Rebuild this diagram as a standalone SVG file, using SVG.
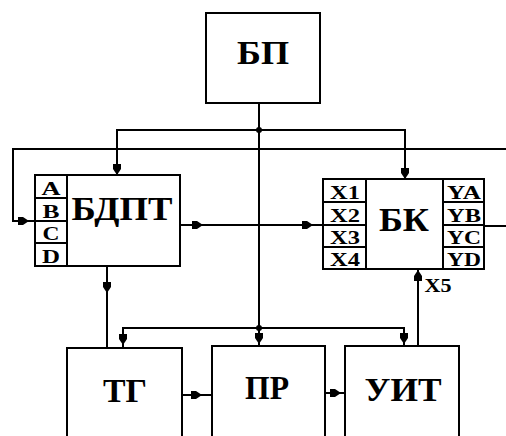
<svg xmlns="http://www.w3.org/2000/svg" xmlns:xlink="http://www.w3.org/1999/xlink" width="506" height="436" viewBox="0 0 506 436">
<style>
.box{fill:#fff;stroke:#000;stroke-width:2}
.ln{fill:none;stroke:#000;stroke-width:2}
.big{font-family:'Liberation Serif','DejaVu Serif',serif;font-weight:bold;font-size:34px;text-anchor:middle;fill:#000}
.sm{font-family:'Liberation Serif','DejaVu Serif',serif;font-weight:bold;font-size:19px;text-anchor:middle;fill:#000}
</style>
<defs>
<path id="ah" d="M-11,-4 L-6,-4 L0,0 L-6,4 L-11,4 z" fill="#000"/>
</defs>
<rect width="506" height="436" fill="#fff"/>
<g id="connectors">
<path class="ln" d="M259,103 V346"/>
<path class="ln" d="M117,175 V130 H405 V179"/>
<path class="ln" d="M506,149 H13 V221 H35"/>
<path class="ln" d="M180,225 H323"/>
<path class="ln" d="M484,226 H506"/>
<path class="ln" d="M107,266 V348"/>
<path class="ln" d="M123,348 V328 H404 V346"/>
<path class="ln" d="M418,346 V269"/>
<path class="ln" d="M182,395 H212"/>
<path class="ln" d="M325,393 H345"/>
<circle cx="259" cy="130" r="3"/>
<circle cx="259" cy="328" r="3"/>
<use xlink:href="#ah" transform="translate(117,175) rotate(90)"/>
<use xlink:href="#ah" transform="translate(405,179) rotate(90)"/>
<use xlink:href="#ah" transform="translate(29,221)"/>
<use xlink:href="#ah" transform="translate(203,225)"/>
<use xlink:href="#ah" transform="translate(313,225)"/>
<use xlink:href="#ah" transform="translate(107,293) rotate(90)"/>
<use xlink:href="#ah" transform="translate(123,345) rotate(90)"/>
<use xlink:href="#ah" transform="translate(259,344) rotate(90)"/>
<use xlink:href="#ah" transform="translate(404,344) rotate(90)"/>
<use xlink:href="#ah" transform="translate(418,270) rotate(-90)"/>
<use xlink:href="#ah" transform="translate(202,395)"/>
<use xlink:href="#ah" transform="translate(341,393)"/>
<text class="sm" x="438" y="292" textLength="27" lengthAdjust="spacingAndGlyphs">X5</text>
</g>
<g id="bp">
<rect class="box" x="206" y="13" width="114" height="90"/>
<text class="big" x="263" y="64" textLength="52" lengthAdjust="spacingAndGlyphs">БП</text>
</g>
<g id="bdpt">
<rect class="box" x="35" y="175" width="145" height="91"/>
<path class="ln" d="M67,175 V266 M35,198 H67 M35,221 H67 M35,243 H67"/>
<text class="sm" x="51" y="195" textLength="19" lengthAdjust="spacingAndGlyphs">A</text>
<text class="sm" x="51" y="218" textLength="17" lengthAdjust="spacingAndGlyphs">B</text>
<text class="sm" x="51" y="240" textLength="17" lengthAdjust="spacingAndGlyphs">C</text>
<text class="sm" x="51" y="263" textLength="18" lengthAdjust="spacingAndGlyphs">D</text>
<text class="big" x="122" y="220" textLength="101" lengthAdjust="spacingAndGlyphs">БДПТ</text>
</g>
<g id="bk">
<rect class="box" x="323" y="179" width="161" height="90"/>
<path class="ln" d="M366,179 V269 M443,179 V269 M323,202 H366 M323,225 H366 M323,247 H366 M443,202 H484 M443,225 H484 M443,247 H484"/>
<text class="sm" x="345" y="199" textLength="30" lengthAdjust="spacingAndGlyphs">X1</text>
<text class="sm" x="345" y="222" textLength="30" lengthAdjust="spacingAndGlyphs">X2</text>
<text class="sm" x="345" y="244" textLength="30" lengthAdjust="spacingAndGlyphs">X3</text>
<text class="sm" x="345" y="266" textLength="30" lengthAdjust="spacingAndGlyphs">X4</text>
<text class="sm" x="464" y="199" textLength="34" lengthAdjust="spacingAndGlyphs">YA</text>
<text class="sm" x="464" y="222" textLength="34" lengthAdjust="spacingAndGlyphs">YB</text>
<text class="sm" x="464" y="244" textLength="34" lengthAdjust="spacingAndGlyphs">YC</text>
<text class="sm" x="464" y="266" textLength="34" lengthAdjust="spacingAndGlyphs">YD</text>
<text class="big" x="404" y="231" textLength="50" lengthAdjust="spacingAndGlyphs">БК</text>
</g>
<g id="tg">
<rect class="box" x="67" y="348" width="115" height="100"/>
<text class="big" x="125" y="402" textLength="44" lengthAdjust="spacingAndGlyphs">ТГ</text>
</g>
<g id="pr">
<rect class="box" x="212" y="346" width="113" height="100"/>
<text class="big" x="267" y="399" textLength="44" lengthAdjust="spacingAndGlyphs">ПР</text>
</g>
<g id="uit">
<rect class="box" x="345" y="346" width="114" height="100"/>
<text class="big" x="403" y="401" textLength="77" lengthAdjust="spacingAndGlyphs">УИТ</text>
</g>
</svg>
